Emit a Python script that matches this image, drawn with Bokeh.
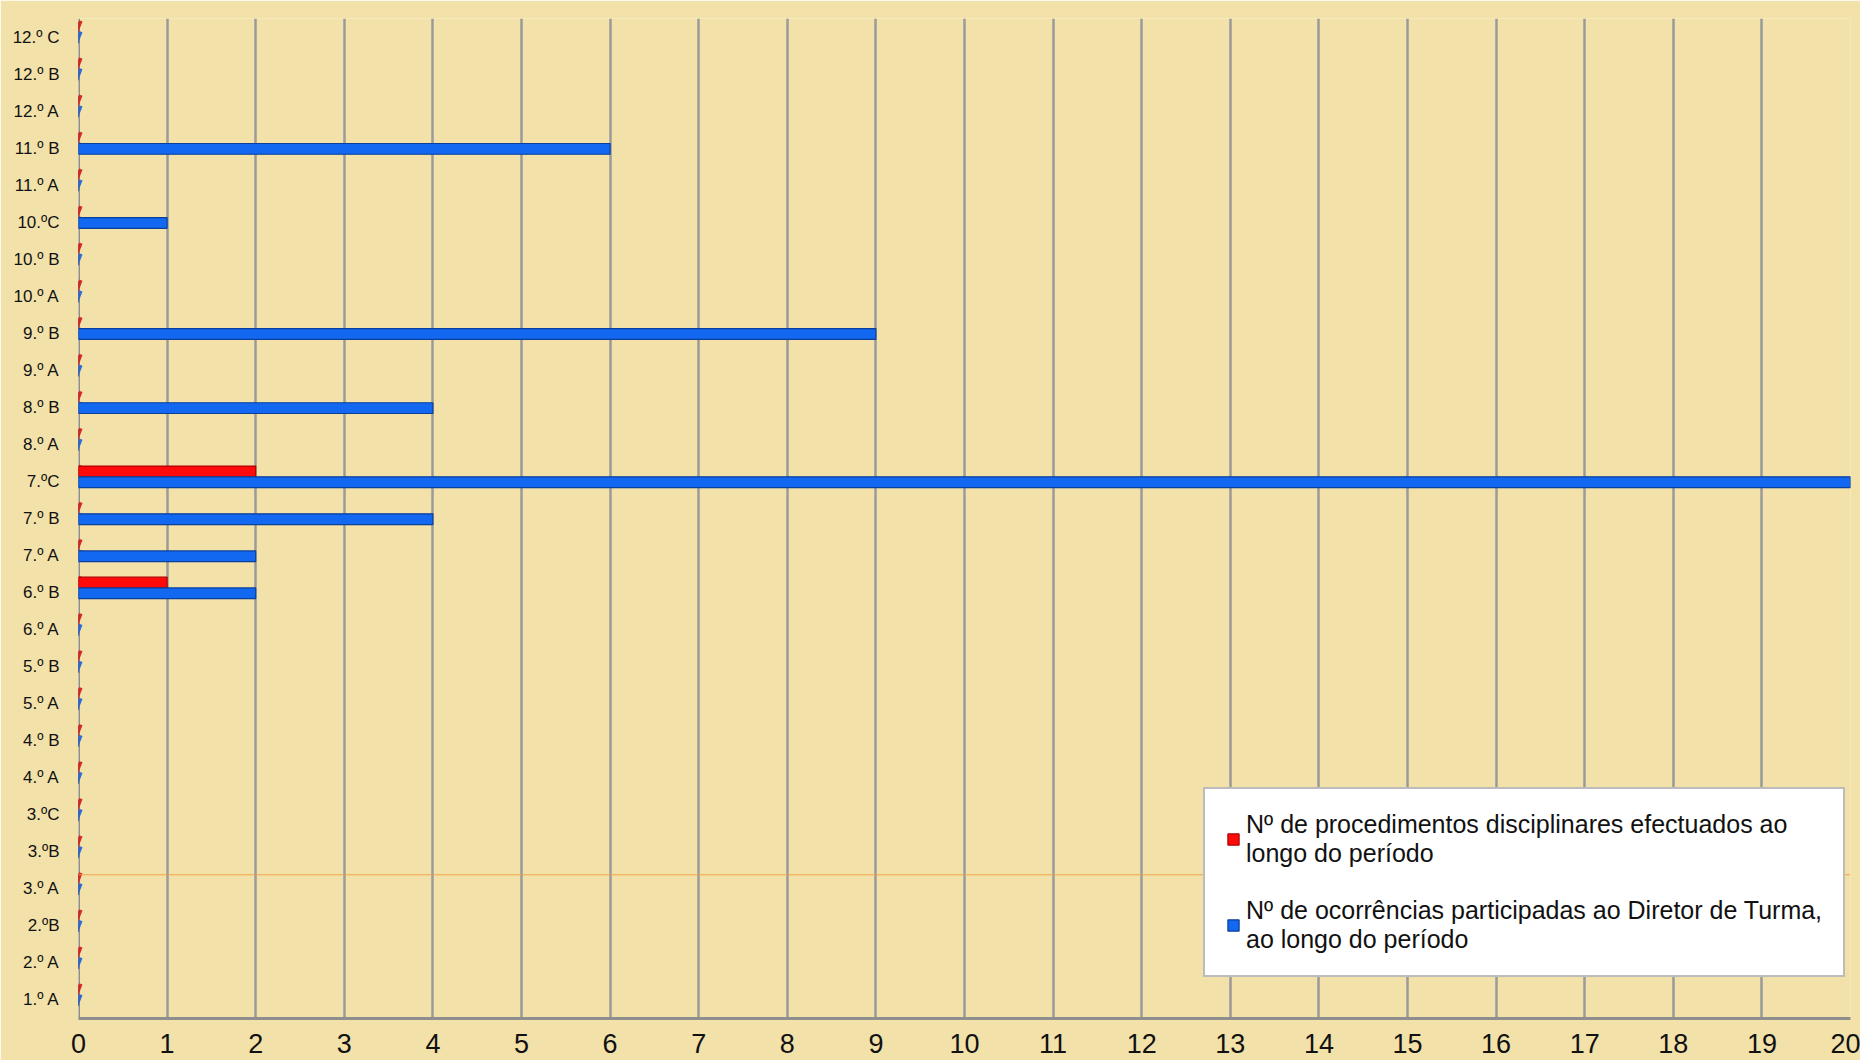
from bokeh.plotting import figure
from bokeh.models import FactorRange, Range1d, Legend, LegendItem, Span, FixedTicker
from bokeh.transform import dodge
from bokeh.embed import file_html
from bokeh.resources import INLINE

turmas = ["1.º A", "2.º A", "2.ºB", "3.º A", "3.ºB", "3.ºC", "4.º A", "4.º B",
          "5.º A", "5.º B", "6.º A", "6.º B", "7.º A", "7.º B", "7.ºC", "8.º A",
          "8.º B", "9.º A", "9.º B", "10.º A", "10.º B", "10.ºC", "11.º A",
          "11.º B", "12.º A", "12.º B", "12.º C"]
procedimentos = [0, 0, 0, 0, 0, 0, 0, 0, 0, 0, 0, 1, 0, 0, 2, 0,
                 0, 0, 0, 0, 0, 0, 0, 0, 0, 0, 0]
ocorrencias = [0, 0, 0, 0, 0, 0, 0, 0, 0, 0, 0, 2, 2, 4, 20, 0,
               4, 0, 9, 0, 0, 1, 0, 6, 0, 0, 0]
x_ticks = list(range(0, 21))
legend_proc = "Nº de procedimentos disciplinares efectuados ao\nlongo do período"
legend_ocor = "Nº de ocorrências participadas ao Diretor de Turma,\nao longo do período"

data = dict(turma=turmas, proc=procedimentos, ocor=ocorrencias,
            zero=[0] * len(turmas))

BG = "#F3E1AA"
p = figure(width=1860, height=1060, y_range=FactorRange(*turmas),
           x_range=Range1d(0, 20), output_backend="svg", toolbar_location=None,
           min_border_left=78, min_border_right=10, min_border_top=18,
           min_border_bottom=42)
p.background_fill_color = BG
p.border_fill_color = BG
p.outline_line_color = None

# left wall line (drawn under the marks)
p.add_layout(Span(location=0, dimension="height", line_color="#8E8E8E",
                  line_width=3, level="underlay"))
# faint orange decoration line
p.add_layout(Span(location=3.88, dimension="width", line_color="#F0A040",
                  line_width=1, line_alpha=0.9))

# start caps at zero
p.scatter(x="zero", y=dodge("turma", 0.27, range=p.y_range), source=data,
          marker="dash", size=13, angle=1.2, line_color="#D42A2A", line_width=3.5)
p.scatter(x="zero", y=dodge("turma", -0.02, range=p.y_range), source=data,
          marker="dash", size=13, angle=1.2, line_color="#2C6CD8", line_width=3.5)

r_proc = p.hbar(y=dodge("turma", 0.27, range=p.y_range), right="proc", left=0,
                height=0.29, source=data, fill_color="#FF0A0A",
                line_color="#B00000", line_width=1.2)
r_ocor = p.hbar(y=dodge("turma", -0.02, range=p.y_range), right="ocor", left=0,
                height=0.29, source=data, fill_color="#1268F0",
                line_color="#0A3F9A", line_width=1.2)

p.xaxis.ticker = FixedTicker(ticks=x_ticks)
for ax in (p.xaxis[0], p.yaxis[0]):
    ax.major_tick_line_color = None
    ax.minor_tick_line_color = None
    ax.major_label_text_color = "#111111"
p.yaxis.axis_line_color = None
p.xaxis.axis_line_color = "#8E8E8E"
p.xaxis.axis_line_width = 3
p.xaxis.major_label_text_font = "Liberation Sans"
p.xaxis.major_label_text_font_size = "27px"
p.xaxis.major_label_standoff = 9
p.yaxis.major_label_text_font = "Liberation Sans"
p.yaxis.major_label_text_font_size = "17px"
p.yaxis.major_label_standoff = 13

p.xgrid.grid_line_color = "#9A9A9A"
p.xgrid.grid_line_width = 2.5
p.ygrid.grid_line_color = None

legend = Legend(items=[LegendItem(label=legend_proc, renderers=[r_proc]),
                       LegendItem(label=legend_ocor, renderers=[r_ocor])],
                location=(1125, 41))
legend.background_fill_color = "white"
legend.background_fill_alpha = 1
legend.border_line_color = "#7A7A7A"
legend.border_line_width = 2
legend.label_text_font = "Liberation Sans"
legend.label_text_font_size = "25px"
legend.label_text_color = "#111111"
legend.label_text_line_height = 1.22
legend.glyph_width = 14
legend.glyph_height = 14
legend.label_standoff = 6
legend.padding = 21
legend.spacing = 28
legend.margin = 0
p.add_layout(legend, "center")

open("out.html", "w").write(file_html(p, INLINE))
